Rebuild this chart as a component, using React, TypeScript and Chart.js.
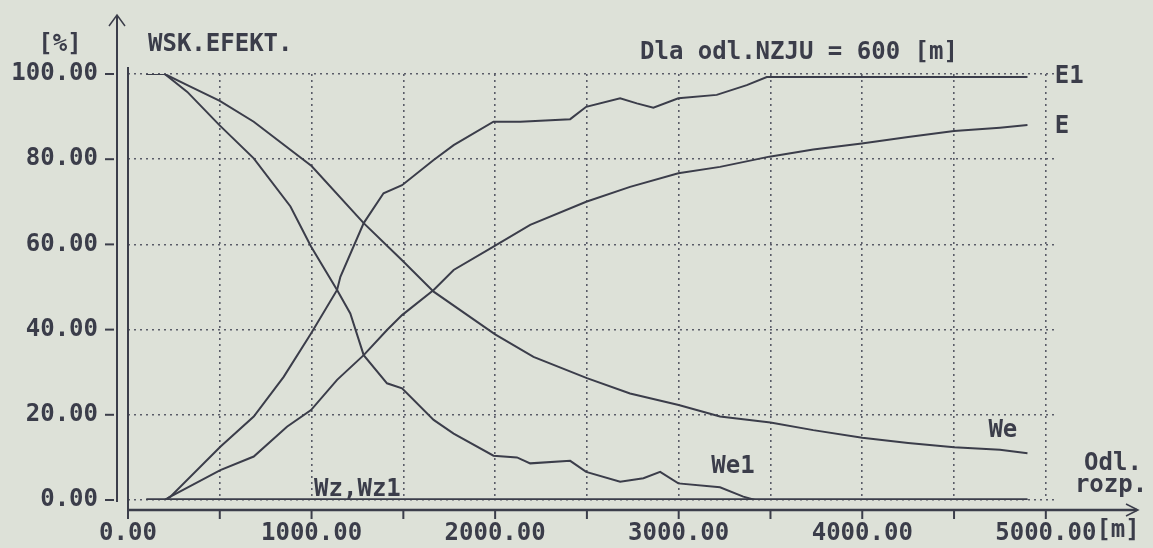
import React, { useEffect, useRef } from "react";
import { Chart, registerables } from "chart.js";

Chart.register(...registerables);

// ---- data ----
const weX = [100, 200, 323, 500, 685, 1000, 1284, 1493, 1665, 2000, 2209, 2500, 2735, 3000, 3225, 3500, 3733, 4000, 4250, 4500, 4750, 4900];
const weY = [100, 100, 97.4, 93.7, 88.8, 78.4, 65, 56.3, 48.9, 38.9, 33.6, 28.6, 25, 22.3, 19.6, 18.2, 16.4, 14.6, 13.4, 12.4, 11.8, 11.0];

const we1X = [100, 200, 323, 498, 685, 885, 997, 1139, 1211, 1284, 1411, 1493, 1665, 1774, 1991, 2119, 2191, 2409, 2496, 2681, 2808, 2899, 2998, 3225, 3352, 3416];
const we1Y = [100, 100, 95.8, 88, 80.2, 68.9, 59.5, 49.3, 43.8, 34.0, 27.4, 26.2, 18.8, 15.6, 10.4, 10.0, 8.6, 9.2, 6.6, 4.3, 5.1, 6.6, 3.9, 3.0, 0.8, 0];

const e1X = [100, 200, 231, 503, 685, 848, 997, 1139, 1157, 1284, 1392, 1493, 1665, 1774, 1991, 2137, 2409, 2496, 2681, 2772, 2862, 2998, 3207, 3371, 3480, 4900];
const e1Y = [0, 0, 0.8, 12.5, 19.6, 28.9, 39.1, 49.3, 52.4, 65, 72, 73.9, 79.8, 83.3, 88.8, 88.8, 89.4, 92.3, 94.3, 93.1, 92.1, 94.3, 95.1, 97.4, 99.3, 99.3];

const eX = [100, 200, 231, 503, 685, 866, 997, 1139, 1284, 1411, 1493, 1665, 1774, 1991, 2191, 2496, 2735, 2998, 3225, 3494, 3733, 3997, 4250, 4500, 4750, 4900];
const eY = [0, 0, 0.8, 7.0, 10.2, 17.2, 21.1, 28.2, 34, 39.9, 43.4, 49.3, 54, 59.5, 64.6, 70, 73.5, 76.7, 78.2, 80.6, 82.3, 83.7, 85.2, 86.6, 87.4, 88.0];

const wzX = [100, 4900];
const wzY = [0, 0];
const wz1Y = [0, 0];

const xTickValues = [0, 500, 1000, 1500, 2000, 2500, 3000, 3500, 4000, 4500, 5000];
const yTickValues = [0, 20, 40, 60, 80, 100];

const INK = "#3b3d4a";
const GRID = "#5a5c68";
const BG = "#dde1d8";
const FONT = "'DejaVu Sans Mono', 'Liberation Mono', monospace";

const pts = (xs: number[], ys: number[]) => xs.map((x, i) => ({ x, y: ys[i] }));

const decorPlugin = {
  id: "decor",
  afterDraw(chart: any) {
    const ctx = chart.ctx;
    const xs = chart.scales.x;
    const ys = chart.scales.y;
    const ca = chart.chartArea;
    const x0 = xs.getPixelForValue(0);
    const y0 = ys.getPixelForValue(0);
    const axisY = y0 + 10;
    const outerX = x0 - 11;
    ctx.save();
    ctx.strokeStyle = INK;
    ctx.fillStyle = INK;
    ctx.lineWidth = 2;
    ctx.setLineDash([]);
    // inner y axis
    ctx.beginPath();
    ctx.moveTo(x0, ca.top - 7);
    ctx.lineTo(x0, axisY);
    ctx.stroke();
    // outer y axis with arrow
    ctx.beginPath();
    ctx.moveTo(outerX, y0 + 2);
    ctx.lineTo(outerX, 15);
    ctx.stroke();
    ctx.lineWidth = 1.5;
    ctx.beginPath();
    ctx.moveTo(outerX - 8, 26);
    ctx.lineTo(outerX, 15);
    ctx.lineTo(outerX + 8, 26);
    ctx.stroke();
    // y tick dashes
    ctx.lineWidth = 2;
    yTickValues.forEach((v) => {
      const py = ys.getPixelForValue(v);
      ctx.beginPath();
      ctx.moveTo(outerX - 12, py);
      ctx.lineTo(outerX - 3, py);
      ctx.stroke();
    });
    // x axis with arrow
    ctx.lineWidth = 2.5;
    ctx.beginPath();
    ctx.moveTo(x0, axisY);
    ctx.lineTo(1137, axisY);
    ctx.stroke();
    ctx.lineWidth = 1.5;
    ctx.beginPath();
    ctx.moveTo(1126, axisY - 6);
    ctx.lineTo(1138, axisY);
    ctx.lineTo(1126, axisY + 6);
    ctx.stroke();
    // x ticks
    ctx.lineWidth = 2;
    xTickValues.forEach((v) => {
      const px = xs.getPixelForValue(v);
      ctx.beginPath();
      ctx.moveTo(px, axisY);
      ctx.lineTo(px, axisY + 9);
      ctx.stroke();
    });

    // texts
    ctx.font = `bold 24px ${FONT}`;
    ctx.textBaseline = "middle";
    ctx.textAlign = "center";
    ctx.fillText("[%]", 60, 45);
    ctx.textAlign = "left";
    ctx.fillText("WSK.EFEKT.", 148, 45);
    ctx.fillText("Dla odl.NZJU = 600 [m]", 640, 53);
    const xr = xs.getPixelForValue(5000);
    ctx.fillText("E1", xr + 9, ys.getPixelForValue(99.3));
    ctx.fillText("E", xr + 9, ys.getPixelForValue(87.6));
    ctx.textAlign = "center";
    ctx.fillText("We", xs.getPixelForValue(4766), ys.getPixelForValue(16.3));
    ctx.fillText("We1", xs.getPixelForValue(3296), ys.getPixelForValue(7.7));
    ctx.fillText("Wz,Wz1", xs.getPixelForValue(1250), ys.getPixelForValue(2.3));
    ctx.fillText("Odl.", 1113, 464);
    ctx.fillText("rozp.", 1111, 486);
    // unit after the last x tick label
    ctx.textAlign = "left";
    ctx.textBaseline = "top";
    const w = ctx.measureText("5000.00").width;
    ctx.fillText("[m]", xr + w / 2, ca.bottom + 19);
    ctx.restore();
  },
};

const bgPlugin = {
  id: "bg",
  beforeDraw(chart: any) {
    const ctx = chart.ctx;
    ctx.save();
    ctx.fillStyle = BG;
    ctx.fillRect(0, 0, chart.width, chart.height);
    ctx.restore();
  },
};

export default function App() {
  const ref = useRef<HTMLCanvasElement | null>(null);
  useEffect(() => {
    document.body.style.margin = "0";
    document.body.style.background = BG;
    if (!ref.current) return;
    const line = (label: string, data: any[], width = 2) => ({
      label,
      data,
      borderColor: INK,
      borderWidth: width,
      pointRadius: 0,
      tension: 0,
      fill: false,
    });
    const chart = new Chart(ref.current, {
      type: "line",
      data: {
        datasets: [
          line("We", pts(weX, weY)),
          line("We1", pts(we1X, we1Y)),
          line("E", pts(eX, eY)),
          line("E1", pts(e1X, e1Y)),
          line("Wz", pts(wzX, wzY), 3),
          line("Wz1", pts(wzX, wz1Y), 3),
        ],
      },
      options: {
        animation: false,
        responsive: false,
        maintainAspectRatio: false,
        layout: { padding: { top: 74, right: 98, left: 0, bottom: 0 } },
        plugins: { legend: { display: false }, tooltip: { enabled: false } },
        scales: {
          x: {
            type: "linear",
            min: 0,
            max: 5050,
            afterBuildTicks: (s: any) => {
              s.ticks = xTickValues.map((v) => ({ value: v }));
            },
            afterFit: (s: any) => {
              s.height = 48;
            },
            grid: { color: GRID, lineWidth: 1.6, drawTicks: false },
            border: { display: false, dash: [2, 4] },
            ticks: {
              padding: 19,
              maxRotation: 0,
              autoSkip: false,
              color: INK,
              font: { family: FONT, size: 24, weight: "bold" },
              callback: (v: any) => (Number(v) % 1000 === 0 ? Number(v).toFixed(2) : ""),
            },
          },
          y: {
            type: "linear",
            min: 0,
            max: 100,
            afterBuildTicks: (s: any) => {
              s.ticks = yTickValues.map((v) => ({ value: v }));
            },
            afterFit: (s: any) => {
              s.width = 128;
            },
            grid: { color: GRID, lineWidth: 1.6, drawTicks: false },
            border: { display: false, dash: [2, 4] },
            ticks: {
              padding: 30,
              color: INK,
              font: { family: FONT, size: 24, weight: "bold" },
              callback: (v: any) => Number(v).toFixed(2),
            },
          },
        },
      },
      plugins: [bgPlugin, decorPlugin],
    });
    return () => chart.destroy();
  }, []);
  return (
    <div style={{ width: 1153, height: 548, background: BG }}>
      <canvas ref={ref} width={1153} height={548} style={{ display: "block" }} />
    </div>
  );
}
